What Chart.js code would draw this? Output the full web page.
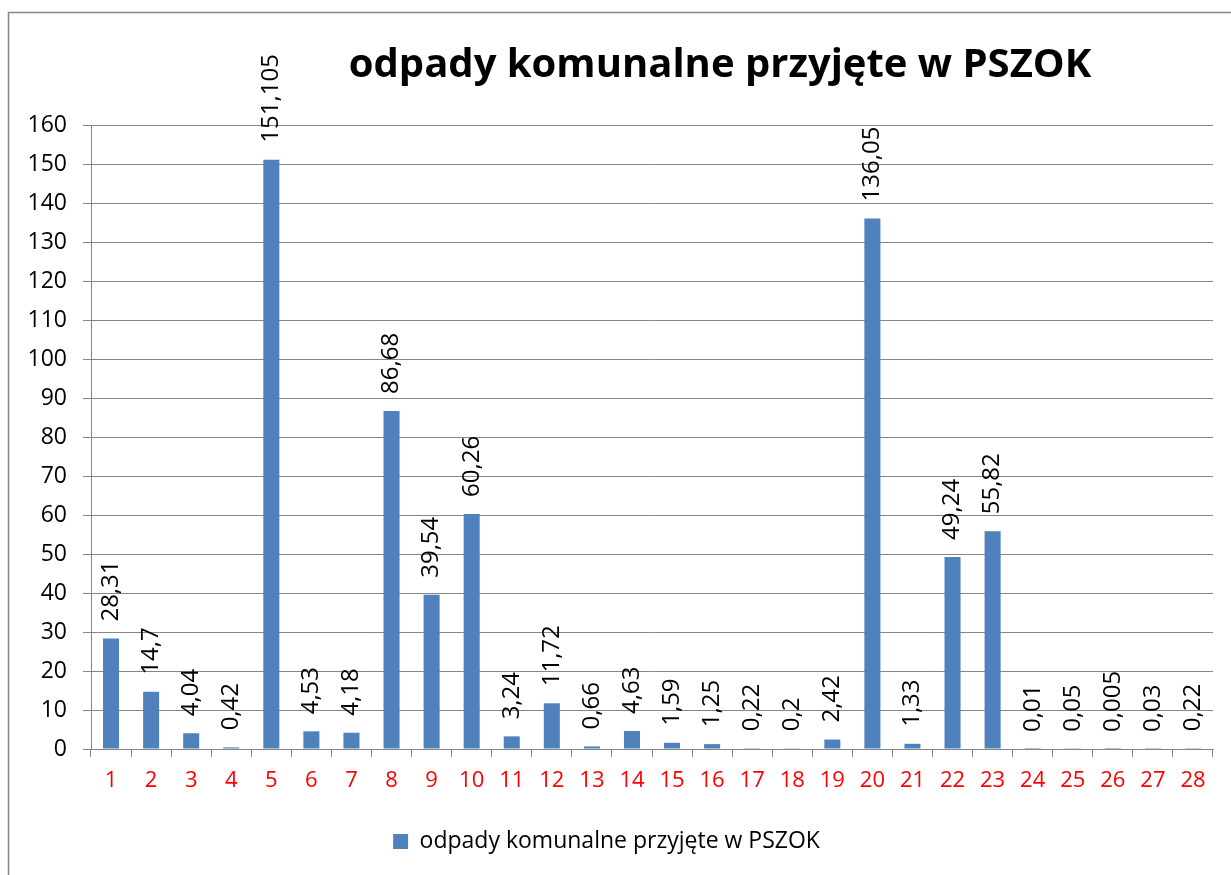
<!DOCTYPE html>
<html>
<head>
<meta charset="utf-8">
<script src="https://cdn.jsdelivr.net/npm/chart.js@4"></script>
<style>
html,body{margin:0;padding:0;background:#fff;}
#wrap{position:relative;width:1231px;height:875px;}
</style>
</head>
<body>
<div id="wrap"><canvas id="c" width="1231" height="875"></canvas></div>
<script>
const categories = ['1','2','3','4','5','6','7','8','9','10','11','12','13','14','15','16','17','18','19','20','21','22','23','24','25','26','27','28'];
const values = [28.31,14.7,4.04,0.42,151.105,4.53,4.18,86.68,39.54,60.26,3.24,11.72,0.66,4.63,1.59,1.25,0.22,0.2,2.42,136.05,1.33,49.24,55.82,0.01,0.05,0.005,0.03,0.22];
const seriesName = 'odpady komunalne przyjęte w PSZOK';
const titleText = 'odpady komunalne przyjęte w PSZOK';
const yMin = 0, yMax = 160, yStep = 10;

const FONT = "'Open Sans', 'Liberation Sans', sans-serif";

const frame = {
  id: 'frame',
  beforeDraw(chart) {
    const ctx = chart.ctx;
    ctx.save();
    ctx.fillStyle = '#fff';
    ctx.fillRect(0, 0, chart.width, chart.height);
    ctx.strokeStyle = '#868686';
    ctx.lineWidth = 1.5;
    ctx.beginPath();
    ctx.moveTo(8.5, chart.height + 5);
    ctx.lineTo(8.5, 12.5);
    ctx.lineTo(chart.width + 5, 12.5);
    ctx.stroke();
    ctx.restore();
  }
};

const titlePlugin = {
  id: 'customTitle',
  afterDraw(chart) {
    const ctx = chart.ctx;
    ctx.save();
    ctx.font = "bold 40px " + FONT;
    ctx.fillStyle = '#000';
    ctx.textAlign = 'center';
    ctx.textBaseline = 'middle';
    ctx.fillText(titleText, 720, 66);
    ctx.restore();
  }
};

const valueLabels = {
  id: 'valueLabels',
  afterDatasetsDraw(chart) {
    const ctx = chart.ctx;
    const meta = chart.getDatasetMeta(0);
    ctx.save();
    ctx.font = "24px " + FONT;
    ctx.fillStyle = '#000';
    ctx.textAlign = 'left';
    ctx.textBaseline = 'middle';
    meta.data.forEach((bar, i) => {
      const txt = String(chart.data.datasets[0].data[i]).replace('.', ',');
      ctx.save();
      ctx.translate(bar.x, bar.y - 17);
      ctx.rotate(-Math.PI / 2);
      ctx.fillText(txt, 0, 0);
      ctx.restore();
    });
    ctx.restore();
  }
};

new Chart(document.getElementById('c'), {
  type: 'bar',
  data: {
    labels: categories,
    datasets: [{
      label: seriesName,
      data: values,
      backgroundColor: '#4F81BD',
      borderWidth: 0,
      barPercentage: 0.4,
      categoryPercentage: 1.0
    }]
  },
  options: {
    responsive: false,
    animation: false,
    layout: { padding: { left: 0, right: 18, top: 125, bottom: 12 } },
    plugins: {
      title: { display: false },
      tooltip: { enabled: false },
      legend: {
        position: 'bottom',
        labels: {
          font: { family: FONT, size: 23 },
          color: '#000',
          boxWidth: 15,
          boxHeight: 15,
          padding: 8
        }
      }
    },
    scales: {
      x: {
        offset: true,
        grid: { display: true, drawOnChartArea: false, drawTicks: true, tickLength: 8, offset: true, color: '#868686', lineWidth: 1 },
        border: { display: true, color: '#868686', width: 1 },
        ticks: { color: '#FF0000', font: { family: FONT, size: 22 }, padding: 11, maxRotation: 0, autoSkip: false },
        afterFit(scale) { scale.height = 73; }
      },
      y: {
        min: yMin, max: yMax,
        ticks: { stepSize: yStep, color: '#000', font: { family: FONT, size: 23 }, padding: 16 },
        grid: { color: '#868686', lineWidth: 1, tickLength: 8 },
        border: { display: true, color: '#868686', width: 1 },
        afterFit(scale) { scale.width = 91; }
      }
    }
  },
  plugins: [frame, titlePlugin, valueLabels]
});
</script>
</body>
</html>
